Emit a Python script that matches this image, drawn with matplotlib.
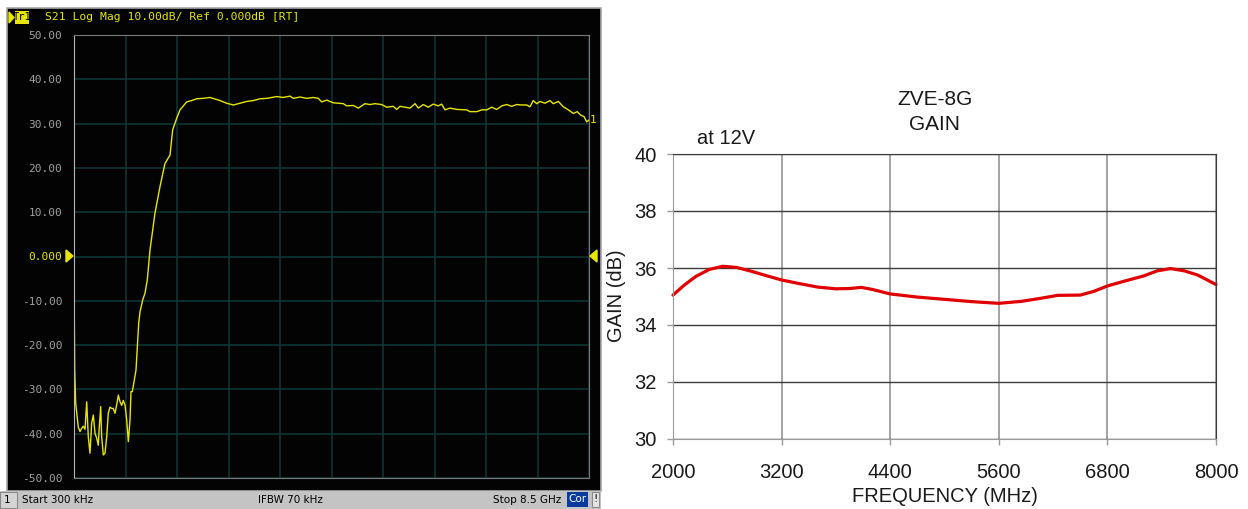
import matplotlib.pyplot as plt
from matplotlib.patches import Rectangle, Polygon

# ---------------------------------------------------------------------------
# Analyzer trace: S21 log mag, 300 kHz .. 8.5 GHz
# ---------------------------------------------------------------------------
vna_freq_ghz = [
    0.0003, 0.005, 0.012, 0.028, 0.045, 0.071, 0.099, 0.127, 0.154, 0.182,
    0.210, 0.236, 0.264, 0.292, 0.319, 0.347, 0.375, 0.401, 0.418, 0.441,
    0.457, 0.484, 0.512, 0.540, 0.566, 0.594, 0.623, 0.649, 0.677, 0.705,
    0.732, 0.760, 0.788, 0.814, 0.842, 0.870, 0.897, 0.925, 0.941, 0.963,
    1.024, 1.045, 1.068, 1.090, 1.134, 1.172, 1.210, 1.255, 1.337, 1.420,
    1.502, 1.585, 1.629, 1.695, 1.750, 1.804, 1.860, 1.943, 2.025, 2.134,
    2.245, 2.410, 2.521, 2.630, 2.740, 2.851, 2.960, 3.070, 3.181, 3.346,
    3.455, 3.565, 3.620, 3.730, 3.841, 3.950, 4.033, 4.089, 4.171, 4.280,
    4.363, 4.445, 4.501, 4.610, 4.693, 4.803, 4.886, 4.968, 5.079, 5.161,
    5.270, 5.326, 5.381, 5.463, 5.546, 5.628, 5.683, 5.765, 5.848, 5.931,
    6.013, 6.069, 6.124, 6.206, 6.317, 6.482, 6.536, 6.647, 6.729, 6.812,
    6.894, 6.977, 7.060, 7.142, 7.224, 7.307, 7.390, 7.472, 7.526, 7.581,
    7.637, 7.692, 7.774, 7.857, 7.911, 7.994, 8.076, 8.159, 8.241, 8.307,
    8.363, 8.418, 8.462, 8.500,
]
vna_s21_db = [
    -5.3, -12.5, -25.6, -33.1, -35.3, -38.5, -39.5, -38.8, -38.3, -39.0,
    -32.8, -40.7, -44.4, -37.6, -35.8, -39.9, -41.0, -42.6, -38.4, -33.9,
    -40.7, -44.8, -44.4, -40.7, -35.4, -34.0, -34.3, -34.3, -35.4, -33.5,
    -31.3, -32.8, -33.6, -32.5, -33.5, -36.9, -41.8, -36.9, -30.5, -30.5,
    -25.6, -20.4, -15.1, -12.5, -9.8, -8.3, -5.3, 1.5, 9.8, 15.8,
    21.0, 22.9, 28.6, 31.2, 33.1, 34.0, 34.9, 35.2, 35.6, 35.7,
    35.9, 35.2, 34.6, 34.2, 34.6, 35.0, 35.2, 35.6, 35.7, 36.1,
    35.9, 36.2, 35.7, 36.0, 35.7, 35.9, 35.7, 34.9, 35.3, 34.7,
    34.6, 34.5, 34.0, 34.1, 33.5, 34.5, 34.3, 34.5, 34.3, 33.7,
    33.9, 33.2, 33.9, 33.7, 33.5, 34.5, 33.5, 34.3, 33.7, 34.4,
    34.0, 34.4, 33.1, 33.5, 33.2, 33.1, 32.7, 32.7, 33.1, 33.1,
    33.7, 33.2, 34.0, 34.3, 33.9, 34.3, 34.2, 34.2, 33.8, 35.2,
    34.5, 35.0, 34.6, 35.2, 34.5, 35.0, 33.8, 33.1, 32.3, 32.7,
    31.9, 31.6, 30.4, 30.8,
]
vna_ytick_db = [50, 40, 30, 20, 10, 0, -10, -20, -30, -40, -50]
vna_ytick_txt = ['50.00', '40.00', '30.00', '20.00', '10.00', '0.000',
                 '-10.00', '-20.00', '-30.00', '-40.00', '-50.00']

# ---------------------------------------------------------------------------
# Datasheet gain curve, ZVE-8G at 12 V
# ---------------------------------------------------------------------------
ds_freq_mhz = [2000, 2125, 2250, 2400, 2550, 2700, 2850, 3000, 3200, 3400,
               3600, 3800, 3950, 4080, 4200, 4400, 4700, 5000, 5300, 5600,
               5850, 6050, 6250, 6500, 6650, 6800, 7000, 7200, 7350, 7500,
               7650, 7800, 8000]
ds_gain_db = [35.05, 35.4, 35.7, 35.95, 36.06, 36.02, 35.9, 35.76, 35.58, 35.45,
              35.33, 35.27, 35.28, 35.32, 35.25, 35.09, 34.98, 34.9, 34.82, 34.76,
              34.83, 34.93, 35.04, 35.05, 35.18, 35.37, 35.55, 35.72, 35.9, 35.98,
              35.9, 35.75, 35.42]
ds_xticks = [2000, 3200, 4400, 5600, 6800, 8000]
ds_yticks = [30, 32, 34, 36, 38, 40]

W, H = 1248, 509
fig = plt.figure(figsize=(W / 100, H / 100), dpi=100)
fig.patch.set_facecolor('white')


def fx(x):
    return x / W


def fy(y):
    return 1 - y / H


def box(x0, y0, x1, y1, **kw):
    fig.add_artist(Rectangle((fx(x0), fy(y1)), fx(x1) - fx(x0), fy(y0) - fy(y1),
                             transform=fig.transFigure, **kw))


# _____________________________________________________________________________
#                           Analyzer screen
# _____________________________________________________________________________
yel = '#e6e600'
mono = 'DejaVu Sans Mono'

# screen background sits under the axes
box(7, 8, 601, 491, facecolor='#030303', edgecolor='#a8a8a8', lw=1.2, zorder=-5)

ax1 = fig.add_axes([fx(74), fy(478), fx(589) - fx(74), fy(35) - fy(478)])
ax1.set_facecolor('#030303')
ax1.plot(vna_freq_ghz, vna_s21_db, color=yel, lw=1.0)
ax1.set_xlim(0.0003, 8.5)
ax1.set_ylim(-50, 50)
ax1.set_xticks([0.0003 + i * 0.85 for i in range(11)])
ax1.set_xticklabels([])
ax1.set_yticks(vna_ytick_db)
ax1.set_yticklabels(vna_ytick_txt, family=mono, fontsize=8)
for lab, v in zip(ax1.get_yticklabels(), vna_ytick_db):
    lab.set_color(yel if v == 0 else '#a0a0a0')
ax1.tick_params(length=0, pad=8.5)
ax1.grid(True, color='#0f3434', lw=1.2)
for side in ax1.spines:
    ax1.spines[side].set_color('#7a7a7a')
ax1.spines['left'].set_color('#b8b8b8')

# reference level arrows and marker tag
for pts in ([(66, 250), (66, 262), (73, 256)], [(597, 250), (597, 262), (590, 256)]):
    fig.add_artist(Polygon([(fx(a), fy(b)) for a, b in pts], closed=True,
                           transform=fig.transFigure, color=yel, zorder=3))
fig.text(fx(590), fy(120), '1', color=yel, family=mono, fontsize=8,
         ha='left', va='center', zorder=3)

# header line
fig.add_artist(Polygon([(fx(9), fy(12)), (fx(9), fy(23)), (fx(14), fy(17.5))],
                       closed=True, transform=fig.transFigure, color=yel))
box(15, 11, 29, 24, facecolor=yel, edgecolor='none')
fig.text(fx(22), fy(17.5), 'Tr1', color='#000000', family=mono, fontsize=7.5,
         ha='center', va='center')
fig.text(fx(45), fy(17.5), 'S21 Log Mag 10.00dB/ Ref 0.000dB [RT]', color=yel,
         family=mono, fontsize=8.2, ha='left', va='center')

# status bar
box(0, 491, 601, 509, facecolor='#c4c4c4', edgecolor='none')
box(0, 492, 17, 508, facecolor='#d4d4d4', edgecolor='#8a8a8a', lw=0.8)
fig.text(fx(4), fy(500), '1', fontsize=7.5, color='#000000', va='center')
fig.text(fx(22), fy(500), 'Start 300 kHz', fontsize=7.5, color='#000000', va='center')
fig.text(fx(290), fy(500), 'IFBW 70 kHz', fontsize=7.5, color='#000000',
         va='center', ha='center')
fig.text(fx(561), fy(500), 'Stop 8.5 GHz', fontsize=7.5, color='#000000',
         va='center', ha='right')
box(567, 492, 588, 507, facecolor='#0a3a9c', edgecolor='none')
fig.text(fx(577.5), fy(499.5), 'Cor', fontsize=7.5, color='white',
         va='center', ha='center')
box(592, 492, 599, 507, facecolor='#e4e4e4', edgecolor='#8a8a8a', lw=0.8)
fig.text(fx(595.5), fy(499.5), '!', fontsize=7.5, color='#000000',
         va='center', ha='center')

# _____________________________________________________________________________
#                           Datasheet chart
# _____________________________________________________________________________
plt.rcParams['font.family'] = ['Liberation Sans', 'DejaVu Sans']
sans = 'Liberation Sans'

ax2 = fig.add_axes([fx(673), fy(439), fx(1216) - fx(673), fy(154) - fy(439)])
ax2.set_facecolor('white')
ax2.set_xlim(2000, 8000)
ax2.set_ylim(30, 40)
ax2.set_xticks(ds_xticks)
ax2.set_yticks(ds_yticks)
ax2.set_xticklabels([str(v) for v in ds_xticks], family=sans, fontsize=14.5,
                    color='#1a1a1a')
ax2.set_yticklabels([str(v) for v in ds_yticks], family=sans, fontsize=14.5,
                    color='#1a1a1a')
ax2.tick_params(axis='x', direction='out', length=4, width=1, color='#9a9a9a', pad=13)
ax2.tick_params(axis='y', direction='out', length=4.5, width=1, color='#9a9a9a', pad=7)
ax2.xaxis.grid(True, color='#8a8a8a', lw=1.1)
ax2.yaxis.grid(True, color='#3c3c3c', lw=1.0)
ax2.set_axisbelow(True)
ax2.spines['left'].set_color('#9a9a9a')
ax2.spines['bottom'].set_color('#9a9a9a')
ax2.spines['top'].set_color('#3c3c3c')
ax2.spines['right'].set_color('#3c3c3c')
ax2.plot(ds_freq_mhz, ds_gain_db, color='#e00000', lw=2.3, solid_capstyle='round',
         solid_joinstyle='round', clip_on=False)

fig.text(fx(935), fy(99), 'ZVE-8G', family=sans, fontsize=15, color='#1a1a1a',
         ha='center', va='center')
fig.text(fx(935), fy(124), 'GAIN', family=sans, fontsize=15, color='#1a1a1a',
         ha='center', va='center')
fig.text(fx(697), fy(138), 'at 12V', family=sans, fontsize=14.5, color='#1a1a1a',
         ha='left', va='center')
fig.text(fx(945), fy(496), 'FREQUENCY (MHz)', family=sans, fontsize=14.5,
         color='#1a1a1a', ha='center', va='center')
fig.text(fx(617), fy(296), 'GAIN (dB)', family=sans, fontsize=14.5,
         color='#1a1a1a', ha='center', va='center', rotation=90)

fig.savefig('out.png', dpi=100)
